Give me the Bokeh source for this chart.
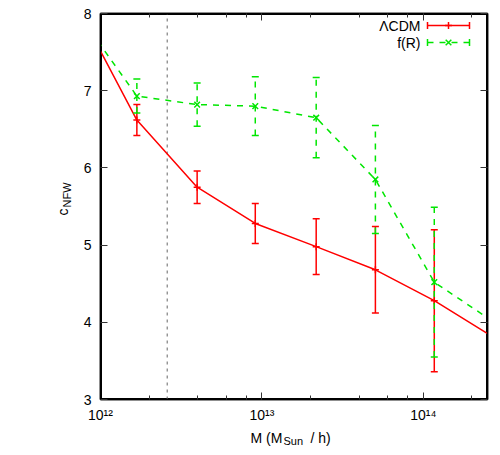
import numpy as np
from bokeh.plotting import figure
from bokeh.models import (Range1d, LogAxis, LinearAxis, Label, ColumnDataSource,
                          SingleIntervalTicker, LogTicker)
from bokeh.embed import file_html
from bokeh.resources import INLINE

# ---------------- data ----------------
mass = [1.68e12, 3.97e12, 9.1e12, 2.17e13, 5.05e13, 1.17e14]
c_lcdm = [6.62, 5.75, 5.28, 4.98, 4.68, 4.28]
err_lcdm = [0.20, 0.21, 0.26, 0.36, 0.56, 0.92]
c_fr = [6.93, 6.82, 6.80, 6.65, 5.85, 4.52]
err_fr = [0.22, 0.28, 0.38, 0.52, 0.70, 0.97]
# curves continue past the plotted range (clipped by the frame)
mass_ext = [7.15e11, 2.75e14]
c_lcdm_ext = [8.09, 3.80]
c_fr_ext = [8.02, 4.00]
m_cut = 2.59e12
x_ticks = [1e12, 1e13, 1e14]
x_tick_labels = ["10\u00b9\u00b2", "10\u00b9\u00b3", "10\u00b9\u2074"]
labels = ["\u039bCDM", "f(R)"]

RED = "#ff0000"
GREEN = "#00e600"
FONT = "Liberation Sans"

X0, X1 = 1e12, 2.5e14
Y0, Y1 = 3, 8
L, R, T, B = 100, 487, 13, 399

p = figure(width=500, height=455, x_axis_type="log",
           x_range=Range1d(X0, X1), y_range=Range1d(Y0, Y1),
           output_backend="svg", toolbar_location=None,
           min_border_left=L, min_border_right=500 - R,
           min_border_top=T, min_border_bottom=455 - B)
p.background_fill_color = "white"
p.border_fill_color = "white"
p.xgrid.visible = False
p.ygrid.visible = False
p.outline_line_color = "black"
p.outline_line_width = 1.5

def style_axis(ax, minor=True, labels_visible=True):
    ax.axis_line_color = "black"
    ax.axis_line_width = 1.5
    ax.major_tick_in = 7
    ax.major_tick_out = 0
    ax.major_tick_line_color = "#333333"
    ax.minor_tick_in = 4 if minor else 0
    ax.minor_tick_out = 0
    ax.minor_tick_line_color = "#333333" if minor else None
    ax.major_label_text_font = FONT
    if labels_visible:
        ax.major_label_text_font_size = "14px"
        ax.major_label_text_color = "black"
        ax.major_label_standoff = 9
    else:
        ax.major_label_text_font_size = "1px"
        ax.major_label_text_color = None
        ax.major_label_standoff = 0

# bottom & left
xax = p.xaxis[0]
xax.ticker = LogTicker()
style_axis(xax)
xax.major_label_standoff = 7
xax.major_label_overrides = {t: s for t, s in zip(x_ticks, x_tick_labels)}
p.yaxis[0].ticker = SingleIntervalTicker(interval=1, num_minor_ticks=0)
style_axis(p.yaxis[0], minor=False)

# mirrored axes
top = LogAxis(ticker=LogTicker())
style_axis(top, labels_visible=False)
p.add_layout(top, "above")
right = LinearAxis(ticker=SingleIntervalTicker(interval=1, num_minor_ticks=0))
style_axis(right, minor=False, labels_visible=False)
p.add_layout(right, "right")

# frame box (drawn inside the frame so that it is always visible)
p.quad(left=[X0], right=[X1], bottom=[Y0], top=[Y1], fill_color=None,
       line_color="black", line_width=3)

# vertical dotted line
p.segment(x0=[m_cut], y0=[Y0], x1=[m_cut], y1=[Y1], line_color="#666666",
          line_dash="3 4", line_width=1)

# ---------------- series ----------------
def add_series(c, err, c_ext, color, dash, marker, msize):
    xs = [mass_ext[0]] + mass + [mass_ext[1]]
    ys = [c_ext[0]] + c + [c_ext[1]]
    p.line(xs, ys, line_color=color, line_width=1.5, line_dash=dash)
    src = ColumnDataSource(dict(m=mass, c=c,
                                lo=[a - e for a, e in zip(c, err)],
                                hi=[a + e for a, e in zip(c, err)]))
    p.segment(x0="m", y0="lo", x1="m", y1="hi", source=src, line_color=color,
              line_width=1.5, line_dash=dash)
    p.scatter("m", "lo", source=src, marker="dash", size=7, line_color=color,
              line_width=1.5)
    p.scatter("m", "hi", source=src, marker="dash", size=7, line_color=color,
              line_width=1.5)
    p.scatter("m", "c", source=src, marker=marker, size=msize,
              line_color=color, line_width=1.5)

add_series(c_lcdm, err_lcdm, c_lcdm_ext, RED, "solid", "cross", 7)
add_series(c_fr, err_fr, c_fr_ext, GREEN, "6 6", "x", 8)

# ---------------- legend (drawn by hand, gnuplot style) ----------------
lx0 = np.log10(X0); lx1 = np.log10(X1)
def xd(px):
    return 10 ** (lx0 + (px - L) / (R - L) * (lx1 - lx0))
def yd(py):
    return Y1 - (py - T) / (B - T) * (Y1 - Y0)

leg_rows = [(25, RED, "solid", "cross", 7), (42, GREEN, "6 6", "x", 8)]
for (py, color, dash, marker, ms), text in zip(leg_rows, labels):
    p.line([xd(427), xd(469)], [yd(py), yd(py)], line_color=color, line_width=1.5,
           line_dash=dash)
    p.segment(x0=[xd(427), xd(469)], y0=[yd(py - 3.5)] * 2,
              x1=[xd(427), xd(469)], y1=[yd(py + 3.5)] * 2,
              line_color=color, line_width=1.5)
    p.scatter([xd(448)], [yd(py)], marker=marker, size=ms, line_color=color,
              line_width=1.5)
    p.add_layout(Label(x=X1, y=Y1, x_offset=420 - R, y_offset=-(py - T), text=text,
                       text_align="right", text_baseline="middle",
                       text_font=FONT, text_font_size="14px", text_color="black"))

# ---------------- axis titles (labels placed in the side panels) ----------------
def lab(text, px, py, size, place, angle=0):
    p.add_layout(Label(x=X0, y=Y0, x_offset=px - L, y_offset=B - py, text=text,
                       text_align="left", text_baseline="alphabetic",
                       angle=angle, angle_units="deg",
                       text_font=FONT, text_font_size=size, text_color="black"),
                 place)

lab("M (M", 250, 437, "14px", "below")
lab("Sun", 283, 440, "11px", "left")
lab("/ h)", 310, 437, "14px", "left")
lab("c", 62, 215, "14px", "left", angle=90)
lab("NFW", 66, 207, "11px", "left", angle=90)

open("out.html", "w").write(file_html(p, INLINE))
